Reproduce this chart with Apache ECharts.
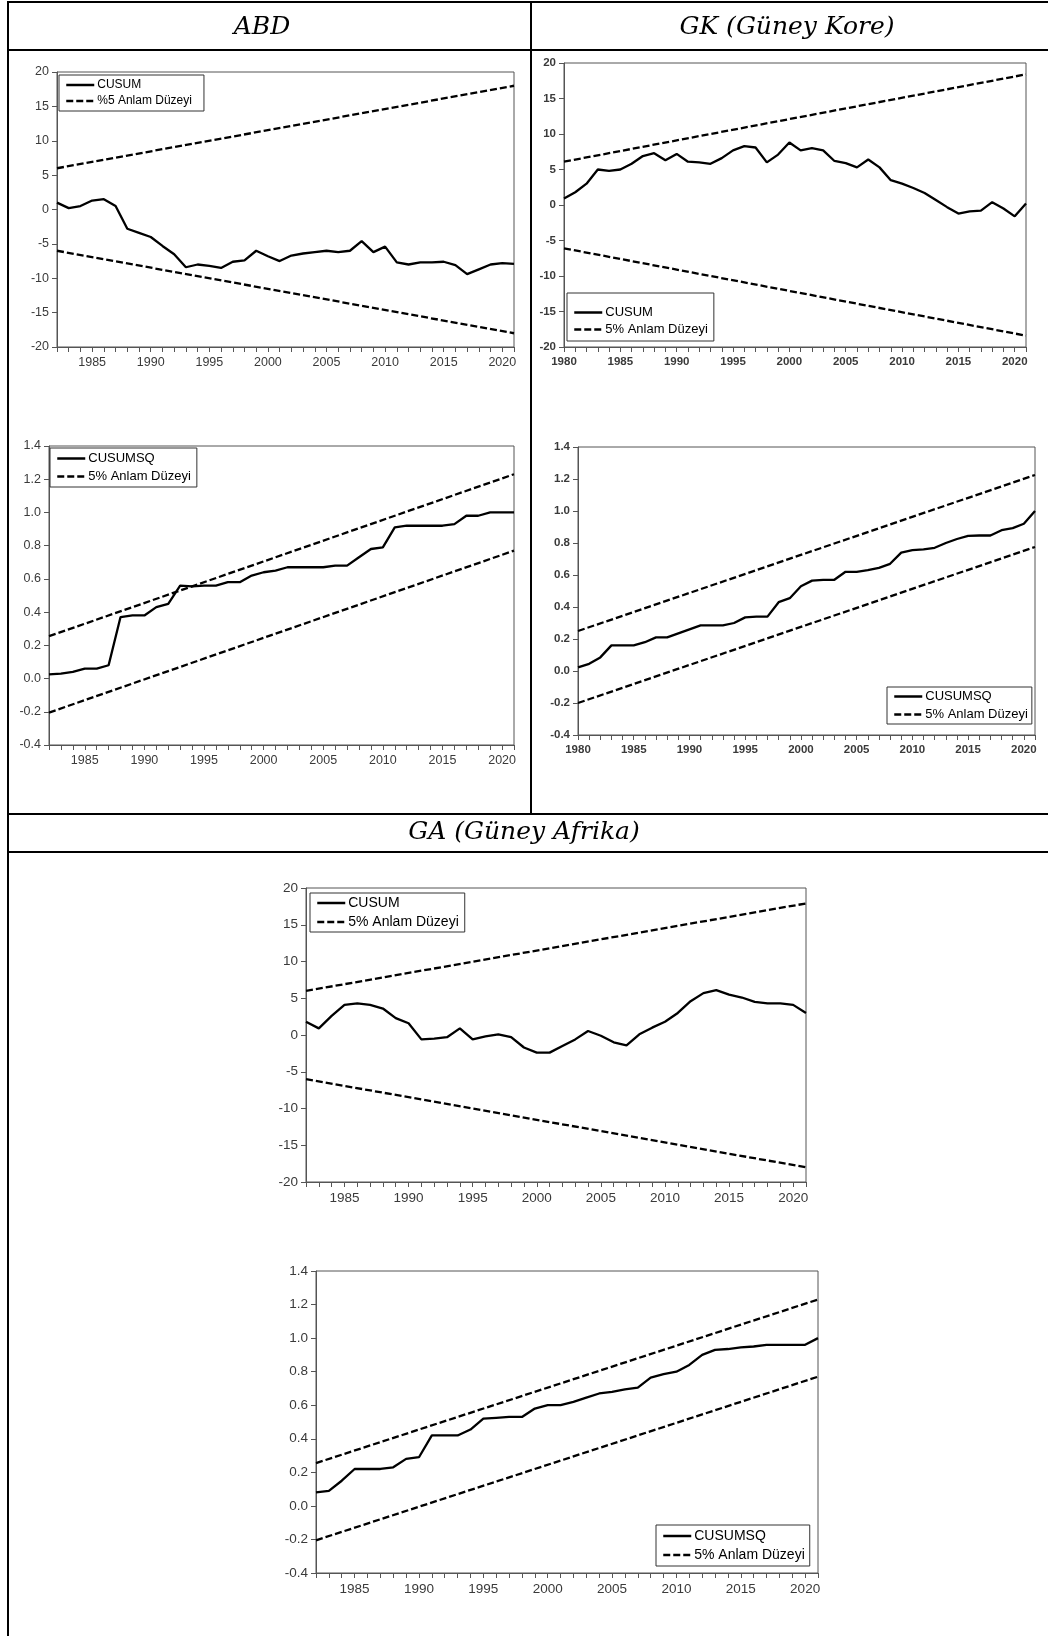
<!DOCTYPE html>
<html><head><meta charset="utf-8">
<script src="https://cdn.jsdelivr.net/npm/echarts@6/dist/echarts.min.js"></script>
<style>html,body{margin:0;padding:0;background:#fff}#c{width:1048px;height:1636px}</style>
</head><body><div id="c"></div>
<script>
// ---------- DATA ----------
const years1982 = [1982,1983,1984,1985,1986,1987,1988,1989,1990,1991,1992,1993,1994,1995,1996,1997,1998,1999,2000,2001,2002,2003,2004,2005,2006,2007,2008,2009,2010,2011,2012,2013,2014,2015,2016,2017,2018,2019,2020,2021];
const years1980 = [1980,1981].concat(years1982);

const abdCusum = [1.0,0.2,0.5,1.3,1.5,0.5,-2.8,-3.4,-4.0,-5.3,-6.5,-8.4,-8.0,-8.2,-8.5,-7.6,-7.4,-6.0,-6.8,-7.5,-6.7,-6.4,-6.2,-6.0,-6.2,-6.0,-4.6,-6.2,-5.4,-7.7,-8.0,-7.7,-7.7,-7.6,-8.1,-9.4,-8.7,-8.0,-7.8,-7.9];
const gkCusum = [0.9,1.8,3.0,5.0,4.8,5.0,5.8,6.9,7.3,6.3,7.2,6.1,6.0,5.8,6.6,7.7,8.3,8.1,6.0,7.1,8.8,7.7,8.0,7.7,6.2,5.9,5.3,6.4,5.3,3.5,3.0,2.4,1.7,0.7,-0.3,-1.2,-0.9,-0.8,0.4,-0.5,-1.6,0.2];
const gaCusum = [1.8,0.9,2.6,4.1,4.3,4.1,3.6,2.3,1.6,-0.6,-0.5,-0.3,0.9,-0.6,-0.2,0.1,-0.3,-1.7,-2.4,-2.4,-1.5,-0.6,0.55,-0.1,-1.0,-1.4,0.1,1.0,1.8,3.0,4.6,5.7,6.1,5.5,5.1,4.5,4.3,4.3,4.1,3.0];

const abdCusumsq = [0.025,0.03,0.04,0.06,0.06,0.08,0.37,0.38,0.38,0.43,0.45,0.56,0.555,0.56,0.56,0.58,0.58,0.62,0.64,0.65,0.67,0.67,0.67,0.67,0.68,0.68,0.73,0.78,0.79,0.91,0.92,0.92,0.92,0.92,0.93,0.98,0.98,1.0,1.0,1.0];
const gkCusumsq = [0.023,0.045,0.085,0.16,0.16,0.16,0.18,0.21,0.21,0.235,0.26,0.285,0.285,0.285,0.30,0.335,0.34,0.34,0.43,0.455,0.53,0.565,0.57,0.57,0.62,0.62,0.63,0.645,0.67,0.74,0.755,0.76,0.77,0.80,0.825,0.845,0.847,0.847,0.88,0.893,0.92,1.0];
const gaCusumsq = [0.08,0.09,0.15,0.22,0.22,0.22,0.23,0.28,0.29,0.42,0.42,0.42,0.455,0.52,0.525,0.53,0.53,0.58,0.6,0.6,0.62,0.645,0.67,0.68,0.695,0.705,0.765,0.785,0.80,0.84,0.90,0.93,0.935,0.945,0.95,0.96,0.96,0.96,0.96,1.0];

// bound lines: value at first and last year
const abdCusumUpper = [6.0, 18.0], abdCusumLower = [-6.0, -18.0];
const gkCusumUpper = [6.1, 18.4], gkCusumLower = [-6.1, -18.4];
const gaCusumUpper = [6.0, 17.9], gaCusumLower = [-6.0, -18.0];
const abdSqUpper = [0.255, 1.23], abdSqLower = [-0.205, 0.77];
const gkSqUpper = [0.25, 1.225], gkSqLower = [-0.2, 0.775];
const gaSqUpper = [0.255, 1.23], gaSqLower = [-0.205, 0.77];

const cusumTicks = {min: -20, max: 20, interval: 5};
const cusumsqTicks = {min: -0.4, max: 1.4, interval: 0.2};

const titles = ['ABD', 'GK (Güney Kore)', 'GA (Güney Afrika)'];

// ---------- BUILD ----------
function pairs(xs, ys) { return xs.map((x, i) => [x, ys[i]]); }

const charts = [
  {name:'CUSUM', bname:'%5 Anlam Düzeyi', years: years1982, vals: abdCusum, up: abdCusumUpper, lo: abdCusumLower, ticks: cusumTicks, sq:false,
   grid:{left:57, top:72, width:457, height:275}, legend:{left:59, top:75, pad:[4,12,4,6], gap:4, fs:12}, lab:{fs:12.5, fw:'normal'}},
  {name:'CUSUM', bname:'5% Anlam Düzeyi', years: years1980, vals: gkCusum, up: gkCusumUpper, lo: gkCusumLower, ticks: cusumTicks, sq:false,
   grid:{left:564, top:63, width:462, height:284}, legend:{left:567, top:293, pad:[13,6,5,6], gap:4, fs:13}, lab:{fs:11.5, fw:'bold'}},
  {name:'CUSUMSQ', bname:'5% Anlam Düzeyi', years: years1982, vals: abdCusumsq, up: abdSqUpper, lo: abdSqLower, ticks: cusumsqTicks, sq:true,
   grid:{left:49, top:446, width:465, height:299}, legend:{left:50, top:448, pad:[4,6,4,6], gap:5, fs:13}, lab:{fs:12.5, fw:'normal'}},
  {name:'CUSUMSQ', bname:'5% Anlam Düzeyi', years: years1980, vals: gkCusumsq, up: gkSqUpper, lo: gkSqLower, ticks: cusumsqTicks, sq:true,
   grid:{left:578, top:447, width:457, height:288}, legend:{left:887, top:687, pad:[3,4,3,6], gap:5, fs:13}, lab:{fs:11.5, fw:'bold'}},
  {name:'CUSUM', bname:'5% Anlam Düzeyi', years: years1982, vals: gaCusum, up: gaCusumUpper, lo: gaCusumLower, ticks: cusumTicks, sq:false,
   grid:{left:306, top:888, width:500, height:294}, legend:{left:310, top:893, pad:[3,6,3,6], gap:5, fs:14}, lab:{fs:13.5, fw:'normal'}},
  {name:'CUSUMSQ', bname:'5% Anlam Düzeyi', years: years1982, vals: gaCusumsq, up: gaSqUpper, lo: gaSqLower, ticks: cusumsqTicks, sq:true,
   grid:{left:316, top:1271, width:502, height:302}, legend:{left:656, top:1525, pad:[4,5,4,6], gap:5, fs:14}, lab:{fs:13.5, fw:'normal'}}
];

const grid = [], xAxis = [], yAxis = [], series = [], legend = [];
charts.forEach((c, i) => {
  grid.push(Object.assign({show:true, borderColor:'#555', borderWidth:1, backgroundColor:'#fff', containLabel:false}, c.grid));
  const first = c.years[0], last = c.years[c.years.length - 1];
  const lab = {color:'#3a3a3a', fontFamily:'Liberation Sans, Arial, sans-serif', fontSize:c.lab.fs, fontWeight:c.lab.fw};
  xAxis.push({type:'value', gridIndex:i, min:first, max:last, interval:1,
    axisLine:{show:true, onZero:false, lineStyle:{color:'#555', width:1}},
    axisTick:{show:true, inside:false, length:5, lineStyle:{color:'#555'}},
    axisLabel:Object.assign({margin:9, showMinLabel:true, showMaxLabel:true, formatter: v => (v % 5 === 0 ? String(v) : '')}, lab),
    splitLine:{show:false}});
  yAxis.push({type:'value', gridIndex:i, min:c.ticks.min, max:c.ticks.max, interval:c.ticks.interval,
    axisLine:{show:true, onZero:false, lineStyle:{color:'#555', width:1}},
    axisTick:{show:true, inside:false, length:5, lineStyle:{color:'#555'}},
    axisLabel:Object.assign({margin:8, formatter: v => c.sq ? v.toFixed(1) : String(Math.round(v))}, lab),
    splitLine:{show:false}});
  const solid = {color:'#000', width:2.3, type:'solid'};
  const dash = {color:'#000', width:2.3, type:[7,3]};
  series.push({type:'line', name:c.name, xAxisIndex:i, yAxisIndex:i, data:pairs(c.years, c.vals), symbol:'none', lineStyle:solid, itemStyle:{color:'#000'}, animation:false, z:3});
  series.push({type:'line', name:c.bname, xAxisIndex:i, yAxisIndex:i, data:pairs([first,last], c.up), symbol:'none', lineStyle:dash, itemStyle:{color:'#000'}, animation:false, z:2});
  series.push({type:'line', name:c.bname, xAxisIndex:i, yAxisIndex:i, data:pairs([first,last], c.lo), symbol:'none', lineStyle:dash, itemStyle:{color:'#000'}, animation:false, z:2});
  legend.push({show:true, orient:'vertical', left:c.legend.left, top:c.legend.top, data:[c.name, c.bname],
    padding:c.legend.pad, itemGap:c.legend.gap, itemWidth:28, itemHeight:14,
    itemStyle:{color:'rgba(0,0,0,0)', borderWidth:0, opacity:0},
    lineStyle:{width:2.5},
    backgroundColor:'#fff', borderColor:'#333', borderWidth:1, borderRadius:0,
    selectedMode:false, textStyle:{color:'#000', fontSize:c.legend.fs, fontFamily:'Liberation Sans, Arial, sans-serif', padding:[0,0,0,-2]}});
});

const L = (x1,y1,x2,y2) => ({type:'line', shape:{x1,y1,x2,y2}, style:{stroke:'#000', lineWidth:2}, silent:true});
const T = (txt,x,y) => ({type:'text', style:{text:txt, x, y, textAlign:'center', textVerticalAlign:'middle', fill:'#000',
    font:'italic 25px "DejaVu Serif", "Liberation Serif", serif'}, silent:true});

const graphic = [
  L(7,2,1048,2), L(8,1,8,1636), L(7,50,1048,50), L(531,1,531,814), L(7,814,1048,814), L(7,852,1048,852),
  T(titles[0], 262, 27), T(titles[1], 787, 27), T(titles[2], 524, 832)
];

const chart = echarts.init(document.getElementById('c'), null, {renderer:'canvas'});
chart.setOption({animation:false, grid, xAxis, yAxis, series, legend, graphic});
</script></body></html>
